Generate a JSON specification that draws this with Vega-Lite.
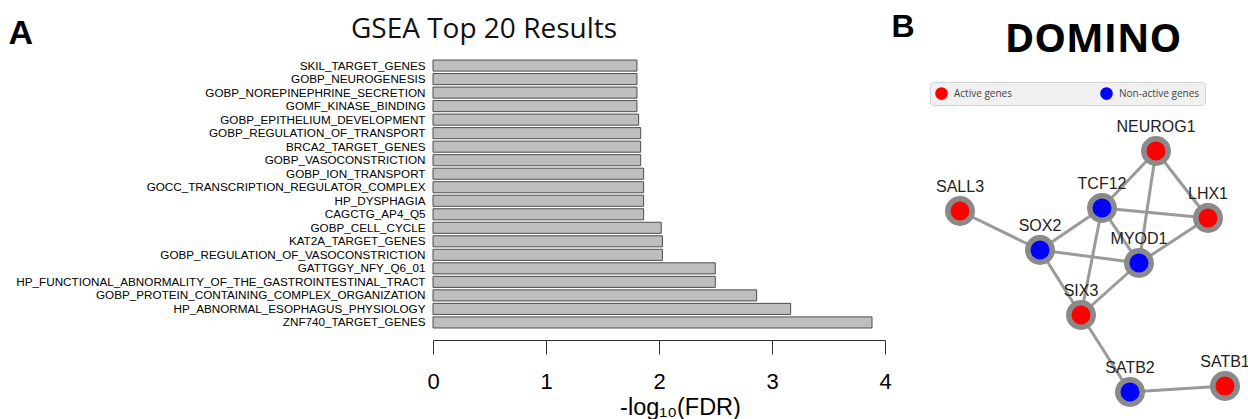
{
  "$schema": "https://vega.github.io/schema/vega-lite/v6.json",
  "padding": {"left": 8, "top": 10, "right": 0, "bottom": 0},
  "background": "white",
  "config": {"view": {"stroke": null}, "font": "Liberation Sans"},
  "datasets": {
    "nodes": [
      {"id": "NEUROG1", "x": 230, "y": 93, "type": "Active genes"},
      {"id": "SALL3", "x": 34, "y": 153, "type": "Active genes"},
      {"id": "TCF12", "x": 176, "y": 150, "type": "Non-active genes"},
      {"id": "LHX1", "x": 282, "y": 160, "type": "Active genes"},
      {"id": "SOX2", "x": 114, "y": 192, "type": "Non-active genes"},
      {"id": "MYOD1", "x": 213, "y": 205, "type": "Non-active genes"},
      {"id": "SIX3", "x": 155, "y": 257, "type": "Active genes"},
      {"id": "SATB2", "x": 204, "y": 334, "type": "Non-active genes"},
      {"id": "SATB1", "x": 299, "y": 328, "type": "Active genes"}
    ],
    "edges": [
      {"s": "NEUROG1", "t": "TCF12"},
      {"s": "NEUROG1", "t": "LHX1"},
      {"s": "NEUROG1", "t": "MYOD1"},
      {"s": "SALL3", "t": "SOX2"},
      {"s": "TCF12", "t": "SOX2"},
      {"s": "TCF12", "t": "LHX1"},
      {"s": "TCF12", "t": "MYOD1"},
      {"s": "TCF12", "t": "SIX3"},
      {"s": "SOX2", "t": "MYOD1"},
      {"s": "SOX2", "t": "SIX3"},
      {"s": "LHX1", "t": "MYOD1"},
      {"s": "MYOD1", "t": "SIX3"},
      {"s": "SIX3", "t": "SATB2"},
      {"s": "SATB2", "t": "SATB1"}
    ]
  },
  "hconcat": [
    {
      "width": 452,
      "height": 272,
      "title": {"text": "GSEA Top 20 Results", "font": "Open Sans", "fontSize": 28, "fontWeight": "normal", "color": "#111", "anchor": "middle", "dx": -175, "dy": 42, "offset": 14},
      "data": {"values": [
        {"term": "SKIL_TARGET_GENES", "value": 1.805},
        {"term": "GOBP_NEUROGENESIS", "value": 1.805},
        {"term": "GOBP_NOREPINEPHRINE_SECRETION", "value": 1.805},
        {"term": "GOMF_KINASE_BINDING", "value": 1.805},
        {"term": "GOBP_EPITHELIUM_DEVELOPMENT", "value": 1.82},
        {"term": "GOBP_REGULATION_OF_TRANSPORT", "value": 1.838},
        {"term": "BRCA2_TARGET_GENES", "value": 1.838},
        {"term": "GOBP_VASOCONSTRICTION", "value": 1.838},
        {"term": "GOBP_ION_TRANSPORT", "value": 1.864},
        {"term": "GOCC_TRANSCRIPTION_REGULATOR_COMPLEX", "value": 1.864},
        {"term": "HP_DYSPHAGIA", "value": 1.864},
        {"term": "CAGCTG_AP4_Q5", "value": 1.864},
        {"term": "GOBP_CELL_CYCLE", "value": 2.02},
        {"term": "KAT2A_TARGET_GENES", "value": 2.03},
        {"term": "GOBP_REGULATION_OF_VASOCONSTRICTION", "value": 2.03},
        {"term": "GATTGGY_NFY_Q6_01", "value": 2.498},
        {"term": "HP_FUNCTIONAL_ABNORMALITY_OF_THE_GASTROINTESTINAL_TRACT", "value": 2.498},
        {"term": "GOBP_PROTEIN_CONTAINING_COMPLEX_ORGANIZATION", "value": 2.864},
        {"term": "HP_ABNORMAL_ESOPHAGUS_PHYSIOLOGY", "value": 3.165},
        {"term": "ZNF740_TARGET_GENES", "value": 3.885}
      ]},
      "mark": {"type": "bar", "fill": "#bebebe", "stroke": "#4d4d4d", "strokeWidth": 1},
      "encoding": {
        "y": {"field": "term", "type": "nominal", "sort": null,
          "scale": {"paddingInner": 0.18, "paddingOuter": 0.15},
          "axis": {"domain": false, "ticks": false, "labelFont": "Liberation Sans", "labelFontSize": 11.7, "labelPadding": 8, "labelLimit": 0, "labelColor": "#000",
            "title": "A", "titleAngle": 0, "titleFontSize": 34, "titleFontWeight": "bold", "titleColor": "#000",
            "titleAlign": "left", "titleBaseline": "alphabetic", "titleX": -425, "titleY": -15}},
        "x": {"field": "value", "type": "quantitative",
          "scale": {"domain": [0, 4], "nice": false},
          "axis": {"values": [0, 1, 2, 3, 4], "grid": false, "offset": 10, "tickSize": 14, "domainColor": "#333", "tickColor": "#333",
            "labelFontSize": 22, "labelColor": "#000", "labelPadding": 17, "labelFlush": false,
            "title": "-log₁₀(FDR)", "titleFontSize": 23.5, "titleFontWeight": "normal", "titleColor": "#000", "titlePadding": 3,
            "titleX": 247, "titleAlign": "center"}}
      }
    },
    {
      "width": 320,
      "height": 355,
      "title": {"text": "DOMINO", "font": "Open Sans", "fontSize": 40, "fontWeight": "bold", "color": "#000", "anchor": "middle", "dx": 7, "dy": 56, "offset": 6},
      "encoding": {
        "x": {"field": "x", "type": "quantitative", "scale": {"domain": [0, 320], "nice": false, "zero": false}, "axis": null},
        "y": {"field": "y", "type": "quantitative", "scale": {"domain": [0, 355], "nice": false, "zero": false, "reverse": true},
          "axis": {"labels": false, "ticks": false, "domain": false, "grid": false,
            "title": "B", "titleAngle": 0, "titleFontSize": 32, "titleFontWeight": "bold", "titleColor": "#000",
            "titleAlign": "left", "titleBaseline": "alphabetic", "titleX": -35, "titleY": -22}}
      },
      "layer": [
        {
          "data": {"name": "edges"},
          "transform": [
            {"lookup": "s", "from": {"data": {"name": "nodes"}, "key": "id", "fields": ["x", "y"]}, "as": ["sx", "sy"]},
            {"lookup": "t", "from": {"data": {"name": "nodes"}, "key": "id", "fields": ["x", "y"]}, "as": ["tx", "ty"]}
          ],
          "mark": {"type": "rule", "color": "#9a9a9a", "strokeWidth": 3},
          "encoding": {
            "x": {"field": "sx", "type": "quantitative"},
            "y": {"field": "sy", "type": "quantitative"},
            "x2": {"field": "tx"},
            "y2": {"field": "ty"}
          }
        },
        {
          "data": {"name": "nodes"},
          "mark": {"type": "point", "shape": "circle", "filled": true, "size": 600, "stroke": "#8a8a8a", "strokeWidth": 5.5, "opacity": 1},
          "encoding": {
            "fill": {"field": "type", "type": "nominal",
              "scale": {"domain": ["Active genes", "Non-active genes"], "range": ["#ff0000", "#0000ff"]},
              "legend": {"title": null, "orient": "none", "legendX": 497, "legendY": 24, "direction": "horizontal", "columns": 2,
                "fillColor": "#f0f0f0", "strokeColor": "#d4d4d4", "cornerRadius": 3, "padding": 5,
                "symbolSize": 160, "symbolStrokeWidth": 0, "symbolType": "circle", "labelFont": "Open Sans", "labelFontSize": 10, "labelColor": "#444",
                "labelOffset": 6, "columnPadding": 88, "gridAlign": "each"}}
          }
        },
        {
          "data": {"name": "nodes"},
          "mark": {"type": "text", "fontSize": 16, "color": "#222", "dy": -24, "baseline": "middle"},
          "encoding": {"text": {"field": "id"}}
        }
      ]
    }
  ],
  "spacing": -1
}
